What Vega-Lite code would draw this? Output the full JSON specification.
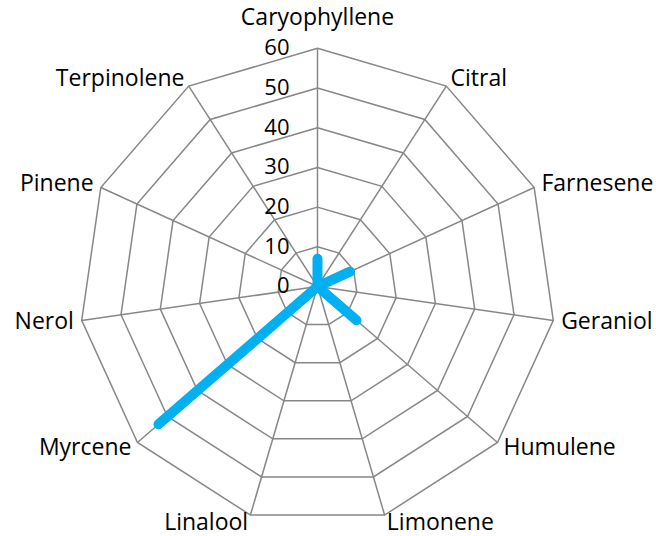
{
  "$schema": "https://vega.github.io/schema/vega-lite/v6.json",
  "width": 656,
  "height": 536,
  "autosize": "none",
  "padding": 0,
  "background": "white",
  "config": {"view": {"stroke": null}, "text": {"font": "Open Sans", "fontSize": 23, "color": "#000000"}},
  "datasets": {
    "terpenes": [
      {"name": "Caryophyllene", "idx": 0, "value": 7},
      {"name": "Citral", "idx": 1, "value": 0},
      {"name": "Farnesene", "idx": 2, "value": 9},
      {"name": "Geraniol", "idx": 3, "value": 0},
      {"name": "Humulene", "idx": 4, "value": 13},
      {"name": "Limonene", "idx": 5, "value": 0},
      {"name": "Linalool", "idx": 6, "value": 0},
      {"name": "Myrcene", "idx": 7, "value": 53},
      {"name": "Nerol", "idx": 8, "value": 0},
      {"name": "Pinene", "idx": 9, "value": 0},
      {"name": "Terpinolene", "idx": 10, "value": 0},
      {"name": "Caryophyllene", "idx": 11, "value": 7}
    ],
    "grid": [
      {"idx": 0, "levels": [10, 20, 30, 40, 50, 60]},
      {"idx": 1, "levels": [10, 20, 30, 40, 50, 60]},
      {"idx": 2, "levels": [10, 20, 30, 40, 50, 60]},
      {"idx": 3, "levels": [10, 20, 30, 40, 50, 60]},
      {"idx": 4, "levels": [10, 20, 30, 40, 50, 60]},
      {"idx": 5, "levels": [10, 20, 30, 40, 50, 60]},
      {"idx": 6, "levels": [10, 20, 30, 40, 50, 60]},
      {"idx": 7, "levels": [10, 20, 30, 40, 50, 60]},
      {"idx": 8, "levels": [10, 20, 30, 40, 50, 60]},
      {"idx": 9, "levels": [10, 20, 30, 40, 50, 60]},
      {"idx": 10, "levels": [10, 20, 30, 40, 50, 60]},
      {"idx": 11, "levels": [10, 20, 30, 40, 50, 60]}
    ],
    "ticks": [
      {"level": 0}, {"level": 10}, {"level": 20}, {"level": 30},
      {"level": 40}, {"level": 50}, {"level": 60}
    ]
  },
  "layer": [
    {
      "data": {"name": "grid"},
      "transform": [
        {"flatten": ["levels"], "as": ["level"]},
        {"calculate": "datum.idx * 2 * PI / 11", "as": "a"},
        {"calculate": "datum.level * sin(datum.a)", "as": "px"},
        {"calculate": "datum.level * cos(datum.a)", "as": "py"}
      ],
      "mark": {"type": "line", "color": "#878787", "strokeWidth": 1.5},
      "encoding": {
        "x": {"field": "px", "type": "quantitative", "scale": {"domain": [-79.97, 85.26], "nice": false, "zero": false}, "axis": null},
        "y": {"field": "py", "type": "quantitative", "scale": {"domain": [-62.85, 72.17], "nice": false, "zero": false}, "axis": null},
        "detail": {"field": "level", "type": "nominal"},
        "order": {"field": "idx", "type": "quantitative"}
      }
    },
    {
      "data": {"name": "terpenes"},
      "transform": [
        {"filter": "datum.idx < 11"},
        {"calculate": "datum.idx * 2 * PI / 11", "as": "a"},
        {"calculate": "60 * sin(datum.a)", "as": "px"},
        {"calculate": "60 * cos(datum.a)", "as": "py"}
      ],
      "mark": {"type": "rule", "color": "#878787", "strokeWidth": 1.5},
      "encoding": {
        "x": {"field": "px", "type": "quantitative", "scale": {"domain": [-79.97, 85.26], "nice": false, "zero": false}, "axis": null},
        "y": {"field": "py", "type": "quantitative", "scale": {"domain": [-62.85, 72.17], "nice": false, "zero": false}, "axis": null},
        "x2": {"datum": 0},
        "y2": {"datum": 0}
      }
    },
    {
      "data": {"name": "terpenes"},
      "transform": [
        {"calculate": "datum.idx * 2 * PI / 11", "as": "a"},
        {"calculate": "datum.value * sin(datum.a)", "as": "px"},
        {"calculate": "datum.value * cos(datum.a)", "as": "py"}
      ],
      "mark": {"type": "line", "color": "#00B0F0", "strokeWidth": 10, "strokeJoin": "round", "strokeCap": "round"},
      "encoding": {
        "x": {"field": "px", "type": "quantitative", "scale": {"domain": [-79.97, 85.26], "nice": false, "zero": false}, "axis": null},
        "y": {"field": "py", "type": "quantitative", "scale": {"domain": [-62.85, 72.17], "nice": false, "zero": false}, "axis": null},
        "order": {"field": "idx", "type": "quantitative"}
      }
    },
    {
      "data": {"name": "terpenes"},
      "transform": [
        {"filter": "datum.idx == 0"},
        {"calculate": "datum.idx * 2 * PI / 11", "as": "a"},
        {"calculate": "62 * sin(datum.a)", "as": "px"},
        {"calculate": "62 * cos(datum.a)", "as": "py"}
      ],
      "mark": {"type": "text", "align": "center", "baseline": "middle", "dy": -22},
      "encoding": {
        "x": {"field": "px", "type": "quantitative", "scale": {"domain": [-79.97, 85.26], "nice": false, "zero": false}, "axis": null},
        "y": {"field": "py", "type": "quantitative", "scale": {"domain": [-62.85, 72.17], "nice": false, "zero": false}, "axis": null},
        "text": {"field": "name"}
      }
    },
    {
      "data": {"name": "terpenes"},
      "transform": [
        {"filter": "datum.idx >= 1 && datum.idx <= 5"},
        {"calculate": "datum.idx * 2 * PI / 11", "as": "a"},
        {"calculate": "62 * sin(datum.a)", "as": "px"},
        {"calculate": "62 * cos(datum.a)", "as": "py"}
      ],
      "mark": {"type": "text", "align": "left", "baseline": "middle"},
      "encoding": {
        "x": {"field": "px", "type": "quantitative", "scale": {"domain": [-79.97, 85.26], "nice": false, "zero": false}, "axis": null},
        "y": {"field": "py", "type": "quantitative", "scale": {"domain": [-62.85, 72.17], "nice": false, "zero": false}, "axis": null},
        "text": {"field": "name"}
      }
    },
    {
      "data": {"name": "terpenes"},
      "transform": [
        {"filter": "datum.idx >= 6 && datum.idx <= 10"},
        {"calculate": "datum.idx * 2 * PI / 11", "as": "a"},
        {"calculate": "62 * sin(datum.a)", "as": "px"},
        {"calculate": "62 * cos(datum.a)", "as": "py"}
      ],
      "mark": {"type": "text", "align": "right", "baseline": "middle"},
      "encoding": {
        "x": {"field": "px", "type": "quantitative", "scale": {"domain": [-79.97, 85.26], "nice": false, "zero": false}, "axis": null},
        "y": {"field": "py", "type": "quantitative", "scale": {"domain": [-62.85, 72.17], "nice": false, "zero": false}, "axis": null},
        "text": {"field": "name"}
      }
    },
    {
      "data": {"name": "ticks"},
      "mark": {"type": "text", "align": "right", "baseline": "middle", "dx": -28, "fontSize": 22},
      "encoding": {
        "x": {"datum": 0, "type": "quantitative", "scale": {"domain": [-79.97, 85.26], "nice": false, "zero": false}, "axis": null},
        "y": {"field": "level", "type": "quantitative", "scale": {"domain": [-62.85, 72.17], "nice": false, "zero": false}, "axis": null},
        "text": {"field": "level", "type": "quantitative"}
      }
    }
  ]
}
